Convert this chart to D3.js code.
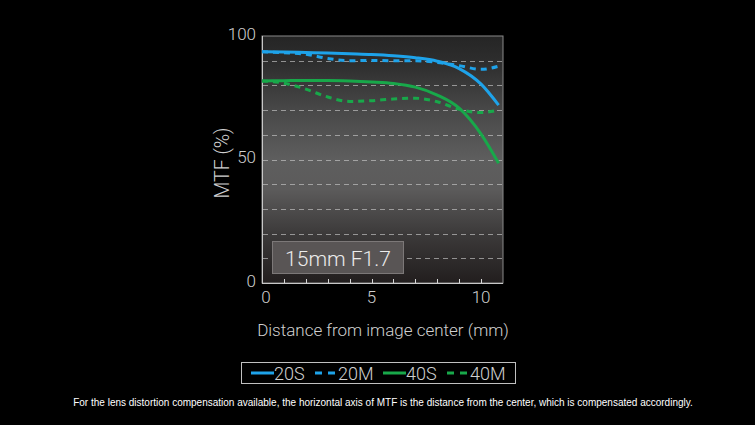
<!DOCTYPE html>
<html>
<head>
<meta charset="utf-8">
<script src="https://cdn.jsdelivr.net/npm/d3@7"></script>
<style>
  html, body { margin: 0; padding: 0; background: #000; }
  svg { display: block; }
</style>
</head>
<body>
<svg id="chart" width="755" height="425"></svg>
<script>
// ---- data ----
const xs = [0, 1, 2, 3, 4, 5, 6, 7, 8, 9, 10, 10.8];
const s20S = [93.6, 93.5, 93.3, 93.1, 92.8, 92.5, 92.0, 91.2, 89.8, 86.8, 80.5, 72.0];
const s20M = [93.6, 93.2, 92.6, 90.9, 90.0, 90.1, 90.0, 90.0, 89.3, 88.0, 86.5, 87.8];
const s40S = [81.8, 81.9, 82.0, 82.0, 81.8, 81.4, 80.8, 79.3, 76.1, 70.8, 60.3, 48.5];
const s40M = [81.8, 80.9, 78.5, 75.3, 73.5, 73.8, 74.5, 74.8, 73.4, 70.3, 69.0, 70.0];
const seriesNames = ["20S", "20M", "40S", "40M"];
const xTickValues = [0, 5, 10];
const yTickValues = [0, 50, 100];
const gridValues = [10, 20, 30, 40, 50, 60, 70, 80, 90];
const minorXTicks = [1, 2, 3, 4, 5, 6, 7, 8, 9, 10];
const lensLabel = "15mm F1.7";
const xTitle = "Distance from image center (mm)";
const yTitle = "MTF (%)";
const footnote = "For the lens distortion compensation available, the horizontal axis of MTF is the distance from the center, which is compensated accordingly.";

// ---- layout ----
const BLUE = "#1ea3ea", GREEN = "#18a84a";
const styles = {
  "20S": { color: BLUE, dash: null },
  "20M": { color: BLUE, dash: "6,5" },
  "40S": { color: GREEN, dash: null },
  "40M": { color: GREEN, dash: "6,5" }
};
const seriesData = { "20S": s20S, "20M": s20M, "40S": s40S, "40M": s40M };

const L = 262, R = 503, T = 36, B = 283;
const x = d3.scaleLinear().domain([0, 11]).range([L, R]);
const y = d3.scaleLinear().domain([0, 100]).range([B, T]);

const svg = d3.select("#chart");
svg.append("rect").attr("width", 755).attr("height", 425).attr("fill", "#000");

const defs = svg.append("defs");
const grad = defs.append("linearGradient").attr("id", "bg").attr("x1", 0).attr("y1", 0).attr("x2", 0).attr("y2", 1);
[[0, "#252525"], [0.12, "#2f2f2f"], [0.3, "#484848"], [0.5, "#5e5e5e"], [0.62, "#5c5b5b"], [0.8, "#3c3a3a"], [1, "#221e1e"]]
  .forEach(([o, c]) => grad.append("stop").attr("offset", o).attr("stop-color", c));

svg.append("rect").attr("x", L).attr("y", T).attr("width", R - L).attr("height", B - T)
  .attr("fill", "url(#bg)").attr("stroke", "#8a8a8a").attr("stroke-width", 1);

// gridlines
svg.append("g").selectAll("line").data(gridValues).join("line")
  .attr("x1", L + 1).attr("x2", R - 1)
  .attr("y1", d => Math.round(y(d)) + 0.5).attr("y2", d => Math.round(y(d)) + 0.5)
  .attr("stroke", "#c8c8c8").attr("stroke-opacity", 0.65)
  .attr("stroke-width", 1).attr("stroke-dasharray", "5,4");

// axes lines
svg.append("line").attr("x1", L + 0.5).attr("x2", L + 0.5).attr("y1", T).attr("y2", B)
  .attr("stroke", "#c8c8c8").attr("stroke-width", 1);
svg.append("line").attr("x1", L).attr("x2", R).attr("y1", B + 0.5).attr("y2", B + 0.5)
  .attr("stroke", "#c8c8c8").attr("stroke-width", 1);

// minor ticks along bottom (inward)
svg.append("g").selectAll("line").data(minorXTicks).join("line")
  .attr("x1", d => Math.round(x(d)) + 0.5).attr("x2", d => Math.round(x(d)) + 0.5)
  .attr("y1", B).attr("y2", B - 4)
  .attr("stroke", "#d8d8d8").attr("stroke-width", 1);

// tick labels
const tickFont = "Roboto, 'DejaVu Sans', sans-serif";
svg.append("g").selectAll("text").data(xTickValues).join("text")
  .attr("x", d => x(d) + (d === 0 ? 4 : 0)).attr("y", 303)
  .attr("text-anchor", "middle")
  .attr("font-family", tickFont).attr("font-weight", 300).attr("font-size", 17)
  .attr("fill", "#cfcfcf").text(d => d);
svg.append("g").selectAll("text").data(yTickValues).join("text")
  .attr("x", 256).attr("y", d => y(d) - 2)
  .attr("dy", "0.35em")
  .attr("text-anchor", "end")
  .attr("font-family", tickFont).attr("font-weight", 300).attr("font-size", 17)
  .attr("fill", "#cfcfcf").text(d => d);

// axis titles
svg.append("text").attr("x", 383).attr("y", 336).attr("text-anchor", "middle")
  .attr("font-family", tickFont).attr("font-weight", 300).attr("font-size", 17)
  .attr("fill", "#cfcfcf").text(xTitle);
svg.append("text").attr("transform", "translate(229,163) rotate(-90)")
  .attr("text-anchor", "middle")
  .attr("font-family", tickFont).attr("font-weight", 300).attr("font-size", 19.5)
  .attr("fill", "#cfcfcf").text(yTitle);

// lens label box
svg.append("rect").attr("x", 272.5).attr("y", 241.5).attr("width", 131).attr("height", 32)
  .attr("fill", "#595555").attr("stroke", "#7c7878").attr("stroke-width", 1);
svg.append("text").attr("x", 338).attr("y", 266).attr("text-anchor", "middle")
  .attr("font-family", tickFont).attr("font-weight", 300).attr("font-size", 21)
  .attr("fill", "#ececec").text(lensLabel);

// curves
const line = d3.line().x(d => x(d[0])).y(d => y(d[1])).curve(d3.curveMonotoneX);
const drawOrder = ["40M", "40S", "20M", "20S"];
svg.append("g").selectAll("path").data(drawOrder).join("path")
  .attr("d", k => line(xs.map((xv, i) => [xv, seriesData[k][i]])))
  .attr("fill", "none")
  .attr("stroke", k => styles[k].color)
  .attr("stroke-width", 3)
  .attr("stroke-dasharray", k => styles[k].dash);

// legend
const lg = svg.append("g");
lg.append("rect").attr("x", 241.5).attr("y", 362.5).attr("width", 274).attr("height", 21)
  .attr("fill", "none").attr("stroke", "#c0c0c0").attr("stroke-width", 1);
const legendX = [251, 315, 383, 447];
seriesNames.forEach((k, i) => {
  const x0 = legendX[i];
  lg.append("line").attr("x1", x0).attr("x2", x0 + 23).attr("y1", 373).attr("y2", 373)
    .attr("stroke", styles[k].color).attr("stroke-width", 3)
    .attr("stroke-dasharray", styles[k].dash ? "7,6" : null);
  lg.append("text").attr("x", x0 + 23).attr("y", 379.5)
    .attr("font-family", tickFont).attr("font-weight", 300).attr("font-size", 18)
    .attr("fill", "#d0d0d0").text(k);
});

// footnote
svg.append("text").attr("x", 383).attr("y", 406).attr("text-anchor", "middle")
  .attr("font-family", "'Liberation Sans', Arial, sans-serif").attr("font-size", 10)
  .attr("fill", "#ffffff").text(footnote);
</script>
</body>
</html>
